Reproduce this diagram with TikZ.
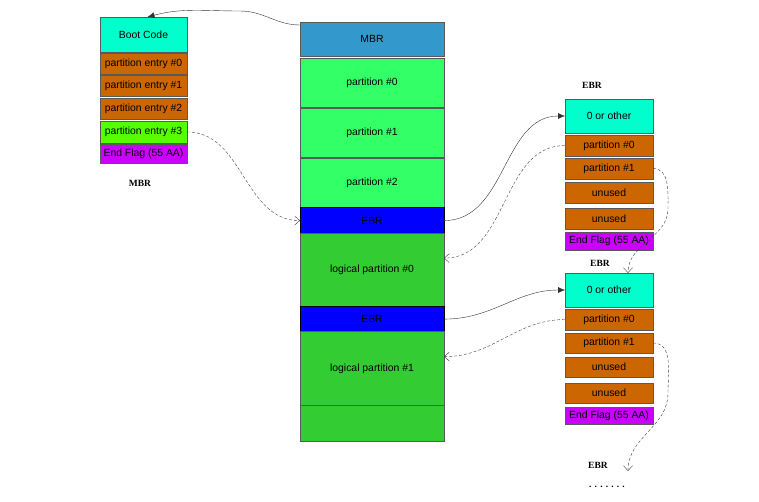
\documentclass[tikz,border=0pt]{standalone}
\usepackage{fontspec}
\setsansfont{Liberation Sans}
\newfontfamily\titlefont{Liberation Serif}
\usepackage{xcolor}
\usepackage{tikz}
\usetikzlibrary{arrows.meta, positioning}
\definecolor{bootcyan}{RGB}{0,255,204}
\definecolor{mbrblue}{RGB}{51,153,204}
\definecolor{partgreen}{RGB}{51,255,102}
\definecolor{ebrblue}{RGB}{0,0,255}
\definecolor{logicgreen}{RGB}{51,204,51}
\definecolor{entrybrown}{RGB}{204,102,0}
\definecolor{entrygreen}{RGB}{85,255,0}
\definecolor{flagpurple}{RGB}{204,0,255}
\tikzstyle{cell} = [rectangle,
inner sep=0pt,
outer sep=0pt,
draw=black!65,
line width=0.7pt,
text centered,
text=black,
font=\sffamily\fontsize{10.4}{12}\selectfont]
\tikzstyle{mbrcell} = [cell, minimum width=87pt]
\tikzstyle{diskcell} = [cell, minimum width=144pt]
\tikzstyle{ebrcell} = [cell, minimum width=88pt]
\tikzstyle{title} = [font=\titlefont\bfseries\fontsize{9.5}{11}\selectfont]
\tikzstyle{link} = [thin, black!80, -{Latex[length=7pt,width=6pt]}]
\tikzstyle{chain} = [thin, black!75, dash pattern=on 3pt off 2pt, -{Straight Barb[length=5pt,width=9pt]}]

\begin{document}
\begin{tikzpicture}[x=1pt, y=-1pt]
    \useasboundingbox (0,0) rectangle (759,501);

    % MBR sector
    \node (boot) [mbrcell, anchor=north west, minimum height=35pt, fill=bootcyan] at (100,17) {Boot Code};
    \node (entry0) [mbrcell, below=1.3pt of boot, minimum height=21pt, fill=entrybrown] {partition entry \#0};
    \node (entry1) [mbrcell, below=1.3pt of entry0, minimum height=21pt, fill=entrybrown] {partition entry \#1};
    \node (entry2) [mbrcell, below=1.3pt of entry1, minimum height=21pt, fill=entrybrown] {partition entry \#2};
    \node (entry3) [mbrcell, below=2pt of entry2, minimum height=22pt, fill=entrygreen] {partition entry \#3};
    \node (flag) [mbrcell, below=1.3pt of entry3, minimum height=19pt, fill=flagpurple] {End Flag (55 AA)};
    \node (mbrtitle) [title] at (140,183) {MBR};

    % disk layout
    \node (mbr) [diskcell, anchor=north west, minimum height=34pt, fill=mbrblue] at (300,22) {MBR};
    \node (part0) [diskcell, below=2pt of mbr, minimum height=49pt, fill=partgreen] {partition \#0};
    \node (part1) [diskcell, below=1.3pt of part0, minimum height=49pt, fill=partgreen] {partition \#1};
    \node (part2) [diskcell, below=1.3pt of part1, minimum height=49pt, fill=partgreen] {partition \#2};
    \node (ebr1) [diskcell, below=0pt of part2, minimum height=26pt, fill=ebrblue, draw=black] {EBR};
    \node (lp0) [diskcell, below=0pt of ebr1, minimum height=73pt, fill=logicgreen] {logical partition \#0};
    \node (ebr2) [diskcell, below=0pt of lp0, minimum height=25pt, fill=ebrblue, draw=black] {EBR};
    \node (lp1) [diskcell, below=0pt of ebr2, minimum height=74pt, fill=logicgreen] {logical partition \#1};
    \node (rest) [diskcell, below=0pt of lp1, minimum height=36pt, fill=logicgreen] {};

    % first EBR
    \node (ebrtitle1) [title] at (592,85) {EBR};
    \node (other1) [ebrcell, anchor=north west, minimum height=34pt, fill=bootcyan] at (565,99) {0 or other};
    \node (p0a) [ebrcell, below=2pt of other1, minimum height=21pt, fill=entrybrown] {partition \#0};
    \node (p1a) [ebrcell, below=2pt of p0a, minimum height=21pt, fill=entrybrown] {partition \#1};
    \node (un1a) [ebrcell, below=3pt of p1a, minimum height=21pt, fill=entrybrown] {unused};
    \node (un2a) [ebrcell, below=5pt of un1a, minimum height=21pt, fill=entrybrown] {unused};
    \node (flaga) [ebrcell, below=3pt of un2a, minimum height=18pt, fill=flagpurple] {End Flag (55 AA)};

    % second EBR
    \node (ebrtitle2) [title] at (600,263) {EBR};
    \node (other2) [ebrcell, anchor=north west, minimum height=34pt, fill=bootcyan] at (565,273) {0 or other};
    \node (p0b) [ebrcell, below=2pt of other2, minimum height=21pt, fill=entrybrown] {partition \#0};
    \node (p1b) [ebrcell, below=3pt of p0b, minimum height=20pt, fill=entrybrown] {partition \#1};
    \node (un1b) [ebrcell, below=4pt of p1b, minimum height=20pt, fill=entrybrown] {unused};
    \node (un2b) [ebrcell, below=6pt of un1b, minimum height=20pt, fill=entrybrown] {unused};
    \node (flagb) [ebrcell, below=4pt of un2b, minimum height=17pt, fill=flagpurple] {End Flag (55 AA)};

    \node (ebrtitle3) [title] at (598,465) {EBR};
    \node (dots) [title] at (607,487) {. . . . . . .};
    \coordinate (nextebr) at (628,471);

    \draw [link] ([yshift=-3pt]mbr.north west) to[out=180,in=0] (240,11) to[out=180,in=15] ([xshift=4pt]boot.north);
    \draw [chain] (entry3.east) to[out=0,in=180] (ebr1.west);
    \draw [link] (ebr1.east) to[out=0,in=180] (other1.west);
    \draw [chain] (p0a.west) to[out=180,in=0] ([yshift=12pt]lp0.east);
    \draw [chain] (p1a.east) to[out=0,in=90] ++(15,40) to[out=-90,in=90] ([xshift=19pt]other2.north);
    \draw [link] (ebr2.east) to[out=0,in=180] (other2.west);
    \draw [chain] (p0b.west) to[out=180,in=0] ([yshift=12pt]lp1.east);
    \draw [chain] (p1b.east) to[out=0,in=90] ++(15,50) to[out=-90,in=90] (nextebr);
\end{tikzpicture}
\end{document}
